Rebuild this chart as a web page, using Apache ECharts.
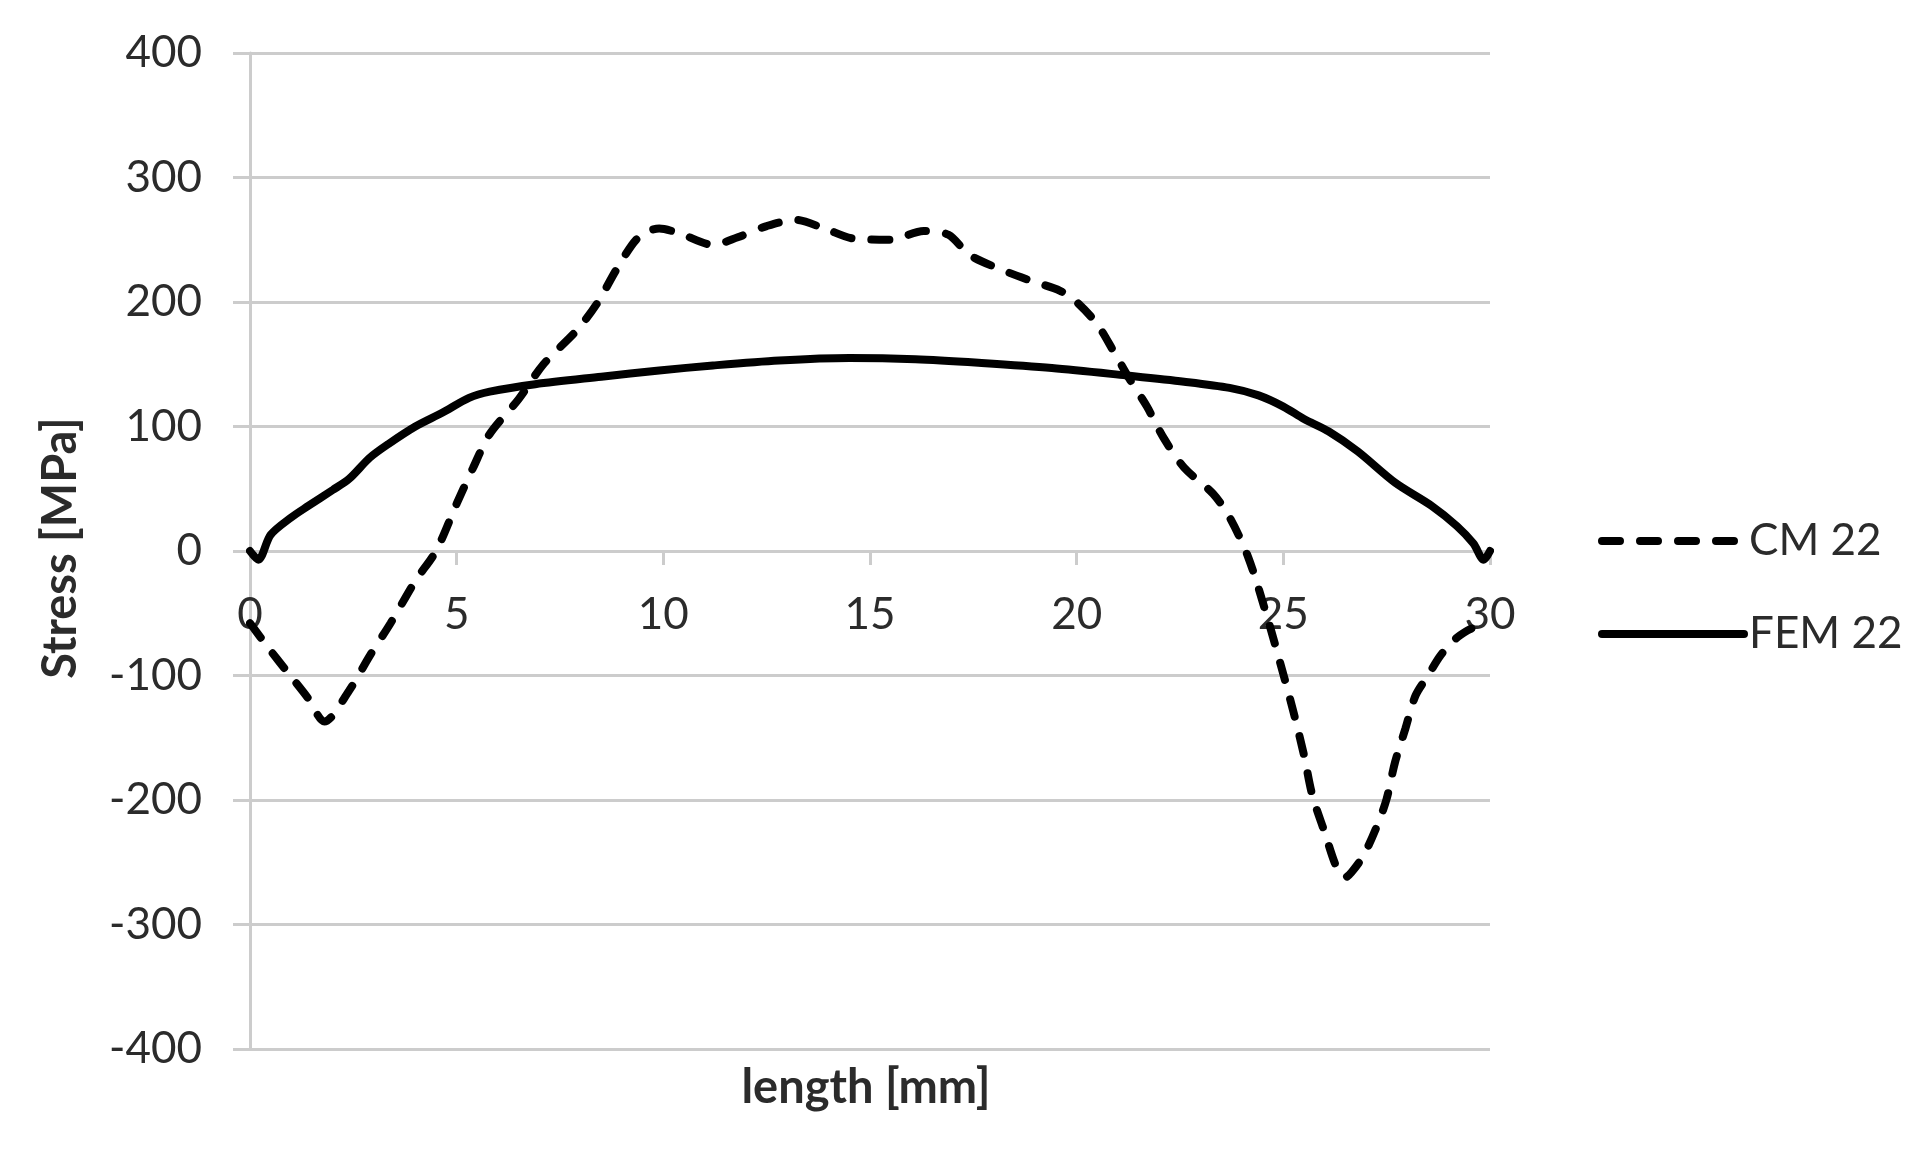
<!DOCTYPE html>
<html>
<head>
<meta charset="utf-8">
<script src="https://cdn.jsdelivr.net/npm/echarts@6/dist/echarts.min.js"></script>
<style>
html,body{margin:0;padding:0;background:#fff;}
#chart{width:1932px;height:1155px;}
</style>
</head>
<body>
<div id="chart"></div>
<script>
// ---- data ----
var seriesNames = ['CM 22', 'FEM 22'];
var xTicks = [0, 5, 10, 15, 20, 25, 30];
var yTicks = [-400, -300, -200, -100, 0, 100, 200, 300, 400];
var xTitle = 'length [mm]';
var yTitle = 'Stress [MPa]';

var cm22 = [
  [0, -58], [0.45, -78], [0.9, -97], [1.4, -118], [1.8, -137], [2.4, -112], [2.9, -84],
  [3.4, -58], [4.0, -24], [4.5, 0], [5.0, 38], [5.4, 67], [5.8, 94], [6.5, 122],
  [7.1, 150], [7.9, 177], [8.4, 199], [8.9, 228], [9.4, 252], [9.9, 259], [10.4, 255],
  [11.2, 246], [11.8, 252], [12.5, 261], [13.2, 266], [13.9, 259], [14.6, 251],
  [15.5, 250], [16.3, 257], [16.9, 254], [17.4, 238], [18.1, 227], [18.9, 217],
  [19.6, 209], [20.0, 200], [20.5, 182], [20.9, 160], [21.3, 137], [21.7, 116],
  [22.1, 91], [22.6, 67], [23.3, 46], [23.7, 27], [24.15, -5], [24.6, -52], [25.0, -99],
  [25.25, -130], [25.5, -164], [25.7, -196], [26.0, -226], [26.3, -255], [26.5, -262],
  [26.65, -258], [26.95, -244], [27.3, -218], [27.5, -199], [27.7, -170], [27.95, -143],
  [28.2, -116], [28.5, -100], [28.8, -84], [29.15, -71], [29.45, -64], [29.7, -60]
];

var fem22 = [
  [0, 0], [0.2, -7], [0.5, 13], [1.0, 27], [1.4, 36], [2.0, 49], [2.4, 58], [2.9, 75],
  [3.35, 86], [4.0, 100], [4.65, 111], [5.3, 123], [5.8, 128], [6.9, 134], [8.5, 140],
  [9.9, 145], [11.2, 149], [12.8, 153], [14.5, 155], [16.1, 154], [17.7, 151],
  [19.4, 147], [21.2, 141], [22.6, 136], [23.7, 131], [24.4, 125], [25.0, 116],
  [25.5, 106], [26.1, 96], [26.8, 80], [27.7, 55], [28.6, 36], [29.2, 20], [29.6, 6],
  [29.85, -7], [30, 0]
];

// ---- chart ----
var textColor = '#2b2b2b';
var gridColor = '#cccccc';
var fontFam = 'Lato, "Open Sans", sans-serif';
var gridTop = 53, gridBottom = 106, chartH = 1155;
var zeroOffset = -(chartH - gridTop - gridBottom) / 2;

var chart = echarts.init(document.getElementById('chart'));
chart.setOption({
  backgroundColor: '#ffffff',
  animation: false,
  textStyle: { fontFamily: fontFam },
  grid: { left: 250, right: 442, top: gridTop, bottom: gridBottom, containLabel: false },
  legend: {
    orient: 'vertical',
    left: 1593,
    top: 511,
    itemWidth: 142,
    itemHeight: 14,
    itemGap: 43,
    data: seriesNames,
    itemStyle: { opacity: 0 },
    lineStyle: { width: 8, cap: 'round' },
    textStyle: { fontSize: 44, lineHeight: 50, color: textColor, fontFamily: fontFam }
  },
  xAxis: {
    type: 'value',
    position: 'bottom',
    offset: zeroOffset,
    min: xTicks[0],
    max: xTicks[xTicks.length - 1],
    interval: xTicks[1] - xTicks[0],
    splitLine: { show: false },
    axisLine: { show: true, onZero: false, lineStyle: { color: gridColor, width: 3 } },
    axisTick: { show: true, inside: false, length: 14, lineStyle: { color: gridColor, width: 3 } },
    axisLabel: { margin: 42, fontSize: 44, color: textColor, fontFamily: fontFam }
  },
  yAxis: {
    type: 'value',
    min: yTicks[0],
    max: yTicks[yTicks.length - 1],
    interval: yTicks[1] - yTicks[0],
    splitLine: { show: true, lineStyle: { color: gridColor, width: 3 } },
    axisLine: { show: true, onZero: false, lineStyle: { color: gridColor, width: 3 } },
    axisTick: { show: true, inside: false, length: 17, lineStyle: { color: gridColor, width: 3 } },
    axisLabel: { margin: 48, fontSize: 44, color: textColor, fontFamily: fontFam }
  },
  graphic: [
    {
      type: 'text', x: 866, y: 1088,
      style: { text: xTitle, fill: textColor, font: 'bold 47px ' + fontFam, align: 'center', verticalAlign: 'middle' }
    },
    {
      type: 'text',
      x: 61, y: 548, rotation: Math.PI / 2,
      style: { text: yTitle, fill: textColor, font: 'bold 47px ' + fontFam, align: 'center', verticalAlign: 'middle' }
    }
  ],
  series: [
    {
      name: seriesNames[0], type: 'line', data: cm22, smooth: 0.3, symbol: 'none',
      lineStyle: { color: '#000', width: 8, type: [18, 20], cap: 'round' },
      itemStyle: { color: '#000' }, z: 3
    },
    {
      name: seriesNames[1], type: 'line', data: fem22, smooth: 0.3, symbol: 'none',
      lineStyle: { color: '#000', width: 8, type: 'solid', cap: 'round' },
      itemStyle: { color: '#000' }, z: 4
    }
  ]
});
</script>
</body>
</html>
